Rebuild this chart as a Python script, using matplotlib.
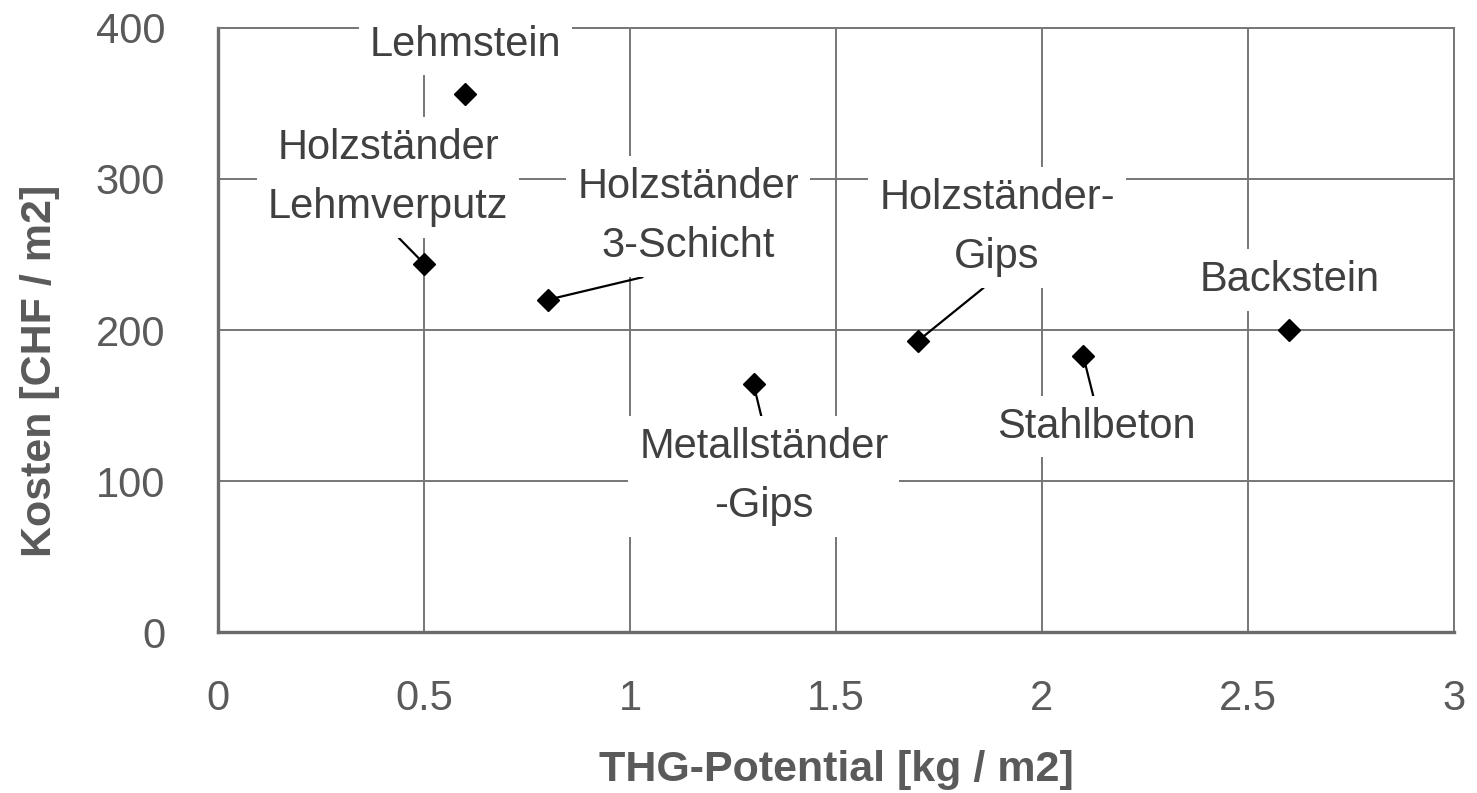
import matplotlib
matplotlib.use("Agg")
import matplotlib.pyplot as plt

plt.rcParams['font.family'] = ['Liberation Sans', 'DejaVu Sans']

# Daten: THG-Potential [kg/m2] und Kosten [CHF/m2]
names = ["Lehmstein", "Holzständer\nLehmverputz", "Holzständer\n3-Schicht",
         "Metallständer\n-Gips", "Holzständer-\nGips", "Stahlbeton", "Backstein"]
thg = [0.6, 0.5, 0.8, 1.3, 1.7, 2.1, 2.6]
kosten = [356, 244, 220, 164, 193, 183, 200]

# Lage der Beschriftungen (Datenkoordinaten) und Ansatzpunkt der Führungslinie
label_pos = [(0.60, 389), (0.413, 301), (1.141, 275), (1.325, 103),
             (1.891, 268), (2.131, 136), (2.602, 233)]
leader = [None, (0.5, 0), (0.5, 0), (0.5, 1), (0.5, 0), (0.5, 1), None]

grid_c = '#767676'
text_c = '#404040'
tick_c = '#5a5a5a'
fs = 30

fig = plt.figure(figsize=(14.77, 7.93), dpi=100)
ax = fig.add_axes([0.1476, 0.2030, 0.8368, 0.7617])

ax.set_xlim(0, 3)
ax.set_ylim(0, 400)
ax.set_xticks([0, 0.5, 1, 1.5, 2, 2.5, 3])
ax.set_xticklabels(["0", "0.5", "1", "1.5", "2", "2.5", "3"])
ax.set_yticks([0, 100, 200, 300, 400])
ax.tick_params(axis='both', length=0, labelsize=fs, labelcolor=tick_c)
ax.tick_params(axis='x', pad=34)
ax.tick_params(axis='y', pad=38)

ax.grid(True, color=grid_c, linewidth=1.4)
ax.set_axisbelow(True)
for side in ['top', 'right']:
    ax.spines[side].set_color(grid_c)
    ax.spines[side].set_linewidth(1.4)
for side in ['left', 'bottom']:
    ax.spines[side].set_color('#6a6a6a')
    ax.spines[side].set_linewidth(2.4)

ax.plot(thg, kosten, linestyle='none', marker='D', markersize=11,
        color='black', zorder=5, clip_on=False)

for name, x, y, (lx, ly), rel in zip(names, thg, kosten, label_pos, leader):
    arrow = None
    if rel is not None:
        arrow = dict(arrowstyle='-', color='black', lw=1.6, relpos=rel,
                     shrinkA=0, shrinkB=2)
    ax.annotate(name, xy=(x, y), xytext=(lx, ly), textcoords='data',
                ha='center', va='center', fontsize=fs, color=text_c,
                linespacing=1.62, zorder=4,
                bbox=dict(boxstyle='square,pad=0.26', fc='white', ec='none'),
                arrowprops=arrow)

ax.set_xlabel("THG-Potential [kg / m2]", fontsize=31, fontweight='bold',
              color=tick_c, labelpad=22)
ax.set_ylabel("Kosten [CHF / m2]", fontsize=31, fontweight='bold',
              color=tick_c, labelpad=26)
# Achsentitel sitzt im Original etwas unterhalb der Mitte
ax.yaxis.label.set_y(0.432)

fig.savefig("out.png", dpi=100)
